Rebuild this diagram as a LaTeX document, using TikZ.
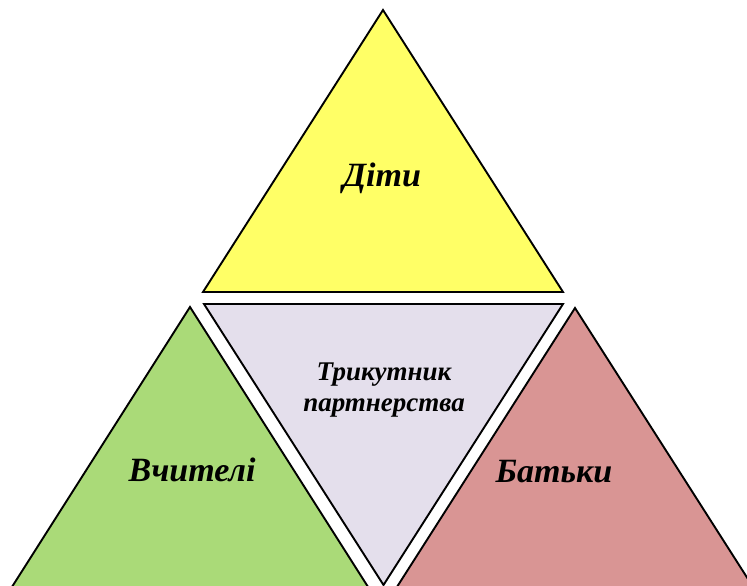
\documentclass[tikz,border=0pt]{standalone}
\usepackage{fontspec}
\setmainfont{Liberation Serif}
\usepackage{tikz}
\usetikzlibrary{positioning}
\definecolor{kidsyellow}{RGB}{255,255,102}
\definecolor{teachgreen}{RGB}{170,218,120}
\definecolor{parentred}{RGB}{217,149,148}
\definecolor{partlilac}{RGB}{228,223,236}

\begin{document}
\begin{tikzpicture}[
  x=1pt, y=-1pt,
  tri/.style={draw=black, line width=1.9pt, line join=miter},
  lbl/.style={font=\fontsize{34}{38}\selectfont\bfseries\itshape, inner sep=0pt},
  mid/.style={font=\fontsize{27}{31}\selectfont\bfseries\itshape, align=center, inner sep=0pt}
]
\useasboundingbox (0,0) rectangle (747,586);
\clip (0,0) rectangle (747,586);

% four triangles
\filldraw[tri, fill=kidsyellow]  (383,10)  -- (563,292) -- (203,292) -- cycle;
\filldraw[tri, fill=partlilac]   (204,304) -- (563,304) -- (383.5,585) -- cycle;
\filldraw[tri, fill=teachgreen]  (190,307) -- (370,590) -- (10,590) -- cycle;
\filldraw[tri, fill=parentred]   (575,308) -- (755,590) -- (395,590) -- cycle;

% labels
\node[lbl] (kids)     at (382,178) {Діти};
\node[mid] (triangle) at (384,390) {Трикутник\\партнерства};
\node[lbl] (teachers) at (192,470) {Вчителі};
\node[lbl] (parents)  at (554,472) {Батьки};

\end{tikzpicture}
\end{document}
